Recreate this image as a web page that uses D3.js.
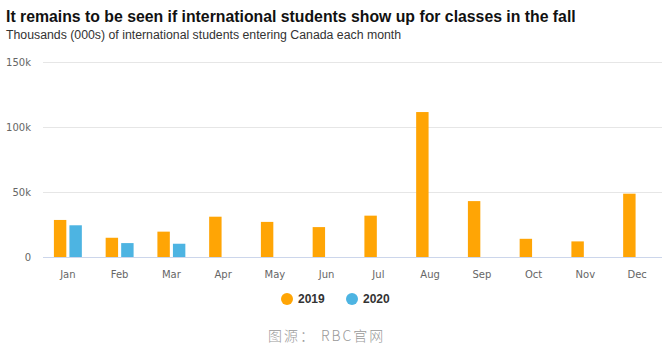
<!DOCTYPE html>
<html>
<head>
<meta charset="utf-8">
<script src="https://cdn.jsdelivr.net/npm/d3@7"></script>
<style>
  body { margin: 0; background: #fff; font-family: Arial, "Liberation Sans", sans-serif; }
  svg { display: block; }
</style>
</head>
<body>
<svg></svg>
<script>
const width = 669;
const height = 353;

const months = ['Jan', 'Feb', 'Mar', 'Apr', 'May', 'Jun', 'Jul', 'Aug', 'Sep', 'Oct', 'Nov', 'Dec'];
const years = ['2019', '2020'];
const values2019 = [28.5, 14.8, 19.5, 31, 27, 23, 31.8, 111.5, 43, 14, 12, 48.7];
const values2020 = [24.4, 10.7, 10.2, null, null, null, null, null, null, null, null, null];
const yTicks = [0, 50, 100, 150];
const colors = ['#ffa505', '#4db4e2'];

const margin = {top: 62, left: 42, right: 6, bottom: 96};
const x0 = d3.scaleBand()
    .domain(months)
    .range([margin.left, width - margin.right])
    .paddingInner(0.46)
    .paddingOuter(0.23);

const x1 = d3.scaleBand()
    .domain(years)
    .range([0, x0.bandwidth()])
    .paddingInner(0.2);

const y = d3.scaleLinear()
    .domain([0, 150])
    .range([height - margin.bottom, margin.top]);

const svg = d3.select('svg')
    .attr('width', width)
    .attr('height', height);

// grid
svg.append('g')
    .selectAll('line')
    .data(yTicks)
    .enter()
    .append('line')
        .attr('x1', margin.left + 1)
        .attr('x2', width - 7)
        .attr('y1', (d) => Math.round(y(d)) + 0.5)
        .attr('y2', (d) => Math.round(y(d)) + 0.5)
        .attr('stroke', (d) => d === 0 ? '#ccd6eb' : '#e6e6e6')
        .attr('stroke-width', 1);

const yAxis = d3.axisLeft(y)
    .tickValues(yTicks)
    .tickSize(0)
    .tickFormat((d) => d === 0 ? '0' : d + 'k');

svg.append('g')
    .attr('transform', `translate(${margin.left - 8}, 0)`)
    .call(yAxis)
    .call((g) => g.select('.domain').remove())
    .selectAll('text')
        .attr('fill', '#666')
        .style('font-size', '10px')
        .style('font-family', 'Verdana, "DejaVu Sans", sans-serif')
        .attr('dy', '0.32em');

const xAxis = d3.axisBottom(x0).tickSize(0);
svg.append('g')
    .attr('transform', `translate(0, ${y(0)})`)
    .call(xAxis)
    .call((g) => g.select('.domain').remove())
    .selectAll('text')
        .attr('fill', '#666')
        .attr('y', 14)
        .style('font-size', '10px')
        .style('font-family', 'Verdana, "DejaVu Sans", sans-serif');

// bars
const series = [values2019, values2020];
series.forEach((vals, i) => {
    svg.append('g')
        .selectAll('rect')
        .data(months.map((m, j) => ({month: m, value: vals[j]})).filter((d) => d.value !== null))
        .enter()
        .append('rect')
            .attr('x', (d) => x0(d.month) + x1(years[i]))
            .attr('y', (d) => y(d.value))
            .attr('width', x1.bandwidth())
            .attr('height', (d) => y(0) - y(d.value))
            .attr('fill', colors[i]);
});

// title
svg.append('text')
    .attr('x', 6)
    .attr('y', 22)
    .style('font-size', '15.8px')
    .style('font-weight', 'bold')
    .attr('fill', '#111')
    .text('It remains to be seen if international students show up for classes in the fall');

svg.append('text')
    .attr('x', 6)
    .attr('y', 39)
    .style('font-size', '12.3px')
    .attr('fill', '#333')
    .text('Thousands (000s) of international students entering Canada each month');

// legend
const legend = svg.append('g')
    .selectAll('g')
    .data(years)
    .enter()
    .append('g')
        .attr('transform', (d, i) => `translate(${287 + i * 65}, 299)`);

legend.append('circle')
    .attr('r', 6)
    .attr('fill', (d, i) => colors[i]);

legend.append('text')
    .attr('x', 11)
    .attr('dy', '0.35em')
    .style('font-size', '12px')
    .style('font-weight', 'bold')
    .attr('fill', '#333')
    .text((d) => d);

// source
svg.append('text')
    .attr('x', 268)
    .attr('y', 341)
    .style('font-size', '14px')
    .style('letter-spacing', '2px')
    .style('font-family', '"Noto Sans CJK SC", sans-serif')
    .style('font-weight', '300')
    .attr('fill', '#999')
    .text('图源： RBC官网');
</script>
</body>
</html>
